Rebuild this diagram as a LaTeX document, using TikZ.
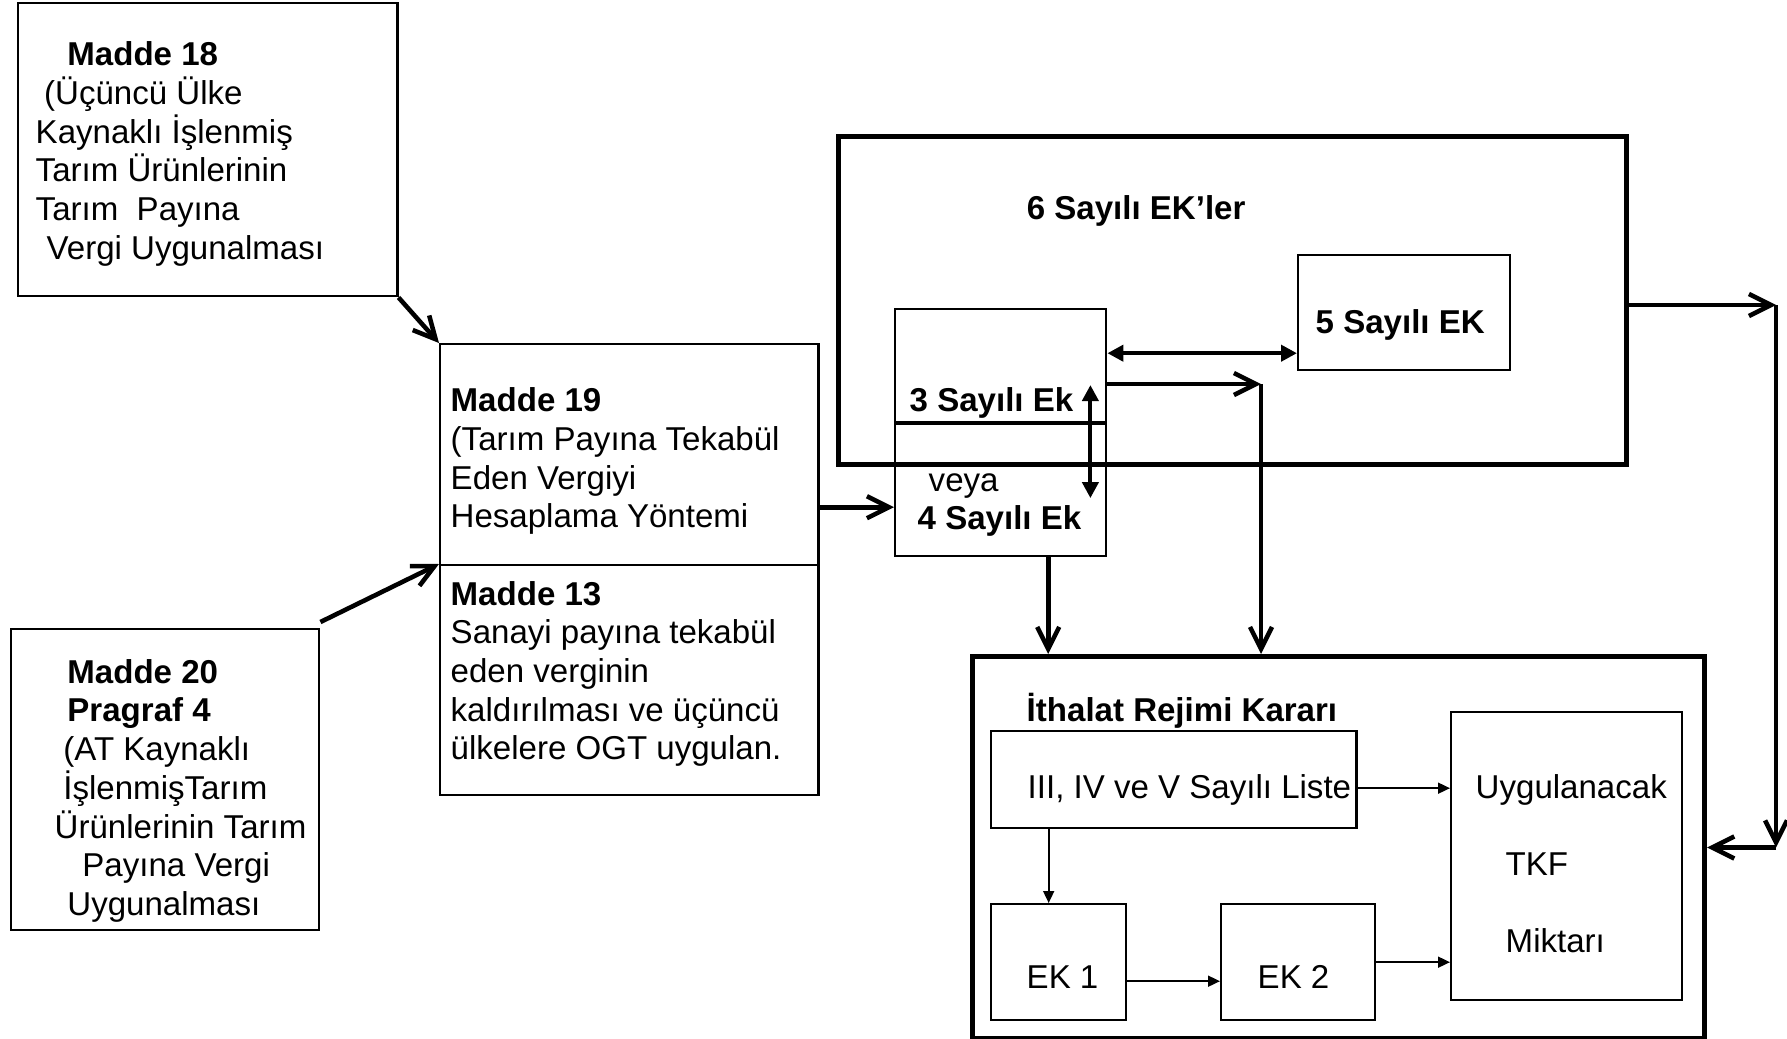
\documentclass[tikz,border=0pt]{standalone}
\usepackage{fontspec}
\setmainfont{Liberation Sans}
\usetikzlibrary{positioning,arrows.meta}

\begin{document}
\begin{tikzpicture}[x=0.01cm, y=-0.01cm,
  box/.style={draw, line width=0.65pt, inner sep=0pt, anchor=north west},
  bigbox/.style={draw, line width=1.35pt, inner sep=0pt, anchor=north west},
  txt/.style={align=left, inner sep=0pt, anchor=base west, font=\fontsize{9.4pt}{11pt}\selectfont},
  bigarrow/.style={line width=1.3pt, -{Straight Barb[length=2.2mm, width=2.2mm]}},
  dblarrow/.style={line width=1.15pt, {Triangle[length=1.6mm, width=1.6mm]}-{Triangle[length=1.6mm, width=1.6mm]}},
  thinarrow/.style={line width=0.5pt, -{Triangle[length=1.2mm, width=1.1mm]}},
  divider/.style={line width=1.1pt}]
 \useasboundingbox (0,0) rectangle (1787,1039);

 \node[box, minimum width=37.9mm, minimum height=29.3mm] (art18) at (17,2) {};
 \node[box, minimum width=37.8mm, minimum height=22.1mm] (art19) at (439,343) {};
 \node[box, minimum width=37.8mm, minimum height=23mm] (art13) at (439,564) {};
 \node[box, minimum width=30.8mm, minimum height=30.1mm] (art20) at (10,628) {};
 \node[bigbox, minimum width=78.8mm, minimum height=32.8mm] (ek6) at (836,134) {};
 \node[box, minimum width=21.1mm, minimum height=24.7mm] (ek34) at (894,308) {};
 \node[box, minimum width=21.2mm, minimum height=11.5mm] (ek5) at (1297,254) {};
 \node[bigbox, minimum width=73.2mm, minimum height=38.2mm] (ith) at (970,654) {};
 \node[box, minimum width=36.5mm, minimum height=9.7mm] (liste) at (990,730) {};
 \node[box, minimum width=13.5mm, minimum height=11.6mm] (ek1) at (990,903) {};
 \node[box, minimum width=15.4mm, minimum height=11.6mm] (ek2) at (1220,903) {};
 \node[box, minimum width=23.1mm, minimum height=28.8mm] (uyg) at (1450,711) {};

 \node[below right=25.7mm and 1.8mm of art18.north west, txt] (art18t)
  {\hspace*{3.17mm}\textbf{Madde 18}\\ \hspace*{0.85mm}(Üçüncü Ülke\\ Kaynaklı İşlenmiş\\ Tarım Ürünlerinin\\ Tarım\ \ Payına\\ \hspace*{1.1mm}Vergi Uygunalması};
 \node[below right=18.48mm and 1.1mm of art19.north west, txt] (art19t)
  {\textbf{Madde 19}\\(Tarım Payına Tekabül\\Eden Vergiyi\\Hesaplama Yöntemi};
 \node[below right=19.58mm and 1.1mm of art13.north west, txt] (art13t)
  {\textbf{Madde 13}\\Sanayi payına tekabül\\eden verginin\\kaldırılması ve üçüncü\\ülkelere OGT uygulan.};
 \node[below right=28.72mm and 4.4mm of art20.north west, txt] (art20t)
  {\hspace*{1.27mm}\textbf{Madde 20}\\ \hspace*{1.27mm}\textbf{Pragraf 4}\\ \hspace*{0.87mm}(AT Kaynaklı\\ \hspace*{0.87mm}İşlenmişTarım\\ Ürünlerinin Tarım\\ \hspace*{2.77mm}Payına Vergi\\ \hspace*{1.27mm}Uygunalması};
 \node[below right=8.5mm and 19mm of ek6.north west, txt] (ek6t) {\textbf{6 Sayılı EK’ler}};
 \node[below right=7.9mm and 1.8mm of ek5.north west, txt] (ek5t) {\textbf{5 Sayılı EK}};
 \node[below right=10.37mm and 1.5mm of ek34.north west, txt] (ek3t) {\textbf{3 Sayılı Ek}};
 \node[below right=22.17mm and 2.3mm of ek34.north west, txt] (ek4t) {\hspace*{1.1mm}veya\\\textbf{4 Sayılı Ek}};
 \node[below right=6.77mm and 5.6mm of ith.north west, txt] (itht) {\textbf{İthalat Rejimi Kararı}};
 \node[below right=6.8mm and 3.7mm of liste.north west, txt] (listet) {III, IV ve V Sayılı Liste};
 \node[below right=8.5mm and 3.6mm of ek1.north west, txt] (ek1t) {EK 1};
 \node[below right=8.5mm and 3.7mm of ek2.north west, txt] (ek2t) {EK 2};
 \node[below right=24.18mm and 2.5mm of uyg.north west, txt] (uygt)
  {Uygulanacak\\[11pt]\hspace*{3mm}TKF\\[11pt]\hspace*{3mm}Miktarı};

 \draw[divider] ([yshift=-11.5mm]ek34.north west) -- ([yshift=-11.5mm]ek34.north east);

 \coordinate (kose) at (1261,384);
 \coordinate (sag) at (1776,305);

 \draw[bigarrow] (art18.south east) -- (art19.north west);
 \draw[bigarrow] ([yshift=0.6mm]art20.north east) -- (art13.north west);
 \draw[bigarrow] ([yshift=-5.25mm]art19.east) -- ([yshift=-5.25mm]art19.east -| ek34.west);
 \draw[dblarrow] ([yshift=-4.05mm]ek5.west -| ek34.east) -- ([yshift=-4.05mm]ek5.west);
 \draw[dblarrow] ([xshift=-1.7mm, yshift=-7.7mm]ek34.north east) -- ([xshift=-1.7mm, yshift=-19mm]ek34.north east);
 \draw[bigarrow] (ek34.east |- kose) -- (kose);
 \draw[bigarrow] (kose) -- (kose |- ith.north);
 \draw[bigarrow] ([xshift=4.75mm]ek34.south) -- ([xshift=4.75mm]ek34.south |- ith.north);
 \draw[bigarrow] (ek6.east |- sag) -- (sag);
 \draw[bigarrow] (sag) -- (sag |- ith.east);
 \draw[bigarrow] (sag |- ith.east) -- (ith.east);
 \draw[thinarrow] ([yshift=-0.85mm]liste.east) -- ([yshift=-0.85mm]liste.east -| uyg.west);
 \draw[thinarrow] ([xshift=-1mm]ek1.north |- liste.south) -- ([xshift=-1mm]ek1.north);
 \draw[thinarrow] ([yshift=-1.9mm]ek1.east) -- ([yshift=-1.9mm]ek1.east -| ek2.west);
 \draw[thinarrow] (ek2.east) -- (ek2.east -| uyg.west);
\end{tikzpicture}
\end{document}
